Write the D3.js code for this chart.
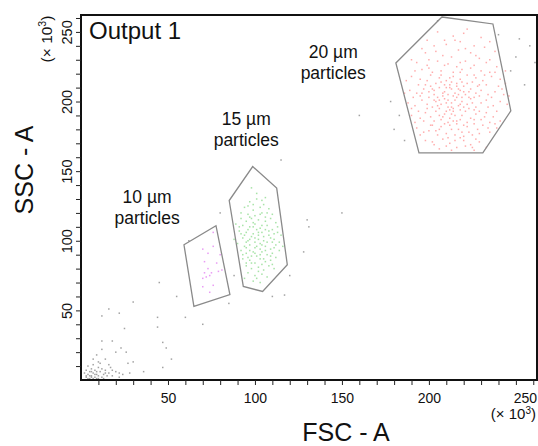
<!DOCTYPE html>
<html>
<head>
<meta charset="utf-8">
<script src="https://cdn.jsdelivr.net/npm/d3@7"></script>
<style>
  body { margin: 0; background: #fff; }
  text { font-family: "Liberation Sans", Arial, sans-serif; fill: #111; }
</style>
</head>
<body>
<div id="chart"></div>
<script>
const width = 538;
const height = 446;
const margin = { top: 15, right: 1, bottom: 66, left: 81 };
const axisMax = 262.144; // x 10^3

const xTicks = [50, 100, 150, 200, 250];
const yTicks = [50, 100, 150, 200, 250];
const minorTicks = d3.range(10, 261, 10);

// gates (x10^3)
const gate20 = [[207.5, 260.7], [236.8, 255.7], [247.1, 193.3], [231, 163.1], [194.3, 163.1], [181, 227.7]];
const gate15 = [[98.7, 153.3], [112.5, 137.8], [118.6, 82.8], [104.4, 63.6], [93.3, 67.2], [85.2, 128.9]];
const gate10 = [[59.2, 97.1], [77.6, 110.8], [85.6, 61.3], [64.9, 52.9]];

const gateLabels = [
  { x: 145, y: 231, lines: ["20 µm", "particles"] },
  { x: 95, y: 183, lines: ["15 µm", "particles"] },
  { x: 38, y: 127, lines: ["10 µm", "particles"] }
];

// events (x10^3)
const red = [
  [205,250],[214,247],[222,252],[230,246],[199,244],[226,240],[218,243],
  [196,238],[204,236],[210,241],[217,237],[224,235],[232,239],[208,233],[229,231],[213,232],[238,236],[200,230],
  [193,228],[199,226],[205,229],[211,227],[216,225],[221,229],[226,226],[233,228],[239,225],[207,222],[214,221],[219,223],[230,222],[202,221],[235,221],[196,223],
  [190,218],[195,216],[201,219],[206,217],[210,215],[214,218],[218,216],[222,219],[227,217],[231,215],[236,218],[241,216],[204,213],[209,212],[216,213],[220,211],[225,214],[198,212],[213,214],[229,212],[187,215],[244,213],
  [189,208],[193,206],[197,209],[200,207],[203,205],[206,210],[209,207],[211,205],[213,209],[215,206],[218,208],[221,205],[224,209],[227,206],[230,208],[234,205],[238,207],[242,209],[201,211],[208,204],[216,211],[223,203],[205,203],[212,212],[219,203],[195,204],[228,211],
  [188,199],[192,197],[196,201],[199,198],[202,196],[204,200],[207,198],[209,202],[211,196],[213,199],[215,201],[217,197],[219,200],[222,198],[224,202],[227,196],[230,199],[233,201],[237,197],[241,200],[206,195],[214,195],[220,196],[210,199],[216,203],[225,199],[200,203],[245,198],[203,201],[218,194],
  [190,190],[195,188],[198,192],[201,189],[204,193],[207,187],[209,191],[212,188],[214,193],[216,186],[219,190],[221,193],[224,188],[227,191],[230,187],[233,192],[237,189],[241,186],[206,190],[211,185],[218,187],[226,194],[203,186],[213,191],[222,185],[235,185],
  [193,181],[197,178],[201,183],[204,179],[207,182],[210,177],[213,180],[216,184],[219,178],[222,182],[225,176],[228,180],[231,183],[235,178],[239,181],[209,184],[215,176],[220,175],[205,176],[226,184],
  [198,172],[203,169],[208,173],[212,170],[216,167],[220,172],[224,169],[229,171],[233,167],[211,174],[218,174],[206,166],[226,165],
  [208,206],[214,204],[211,201],[217,209],[206,201],[213,196],[220,207],[210,193],[215,190],[207,214],[222,213],[212,217],[218,221],[203,208],[226,203],
  [198,235],[203,240],[215,244],[221,238],[227,233],[235,230],[192,222],[200,224],[209,226],[218,228],[224,224],[232,219],[238,221],[194,212],[199,215],[207,219],[212,210],[219,214],[226,219],[233,212],[240,211],
  [191,203],[196,206],[202,209],[210,210],[217,205],[223,207],[229,204],[236,203],[243,205],[190,195],[194,193],[199,195],[205,197],[212,194],[218,198],[223,195],[229,193],[234,196],[239,193],
  [192,185],[197,186],[202,183],[208,189],[214,186],[220,183],[226,187],[232,189],[238,184],[195,176],[200,179],[206,180],[212,183],[217,180],[223,178],[229,177],[234,181],
  [202,171],[210,168],[215,172],[221,168],[227,173],[209,244],[220,249],[235,243],[190,230],[244,222],[246,204],[186,206],[213,165],[225,167]
];

const green = [
  [97,128],[101,130],[105,126],[94,124],[99,122],[103,124],[108,123],[96,119],[100,118],[104,120],[110,119],[92,116],[95,114],[98,116],[102,115],[106,114],[109,116],[112,113],
  [93,111],[97,110],[100,112],[103,109],[107,111],[110,108],[91,107],[95,106],[99,105],[101,108],[104,106],[108,104],[113,106],[93,102],[96,100],[98,103],[102,101],[105,103],[107,99],[111,101],
  [90,98],[94,96],[97,97],[100,95],[103,98],[106,96],[109,94],[112,97],[92,93],[95,91],[99,92],[101,89],[104,92],[107,90],[110,91],[114,93],[93,87],[97,86],[100,84],[103,87],[106,85],[109,86],[112,88],
  [95,82],[98,80],[102,81],[105,79],[108,82],[111,80],[96,77],[100,75],[104,76],[107,74],[99,71],[103,70],[101,134],[98,138],[106,131],[89,112],[115,104],[116,96],[88,101],[100,99],
  [102,104],[99,110],[96,108],[105,100],[103,94],[98,89],[108,107],[94,104],[110,99],[101,96],[97,93],[104,111],[106,117],[92,120],[113,110],[95,84],[110,83],[102,78],[94,73],
  [96,125],[103,119],[99,113],[106,108],[92,105],[97,101],[104,97],[109,102],[95,95],[100,91],[106,93],[111,95],[93,90],[98,84],[104,83],[109,89],[101,73],[97,117],[102,106],[107,120],
  [91,110],[114,99],[96,88],[105,87],[99,126],[104,129],[95,99],[111,105],[100,102],[103,90]
];

const violet = [
  [76,106],[70,94],[76,96],[80,90],[71,85],[73,80],[71,77],[72,74],[74,75],[75,77],[70,73],[79,78],[81,79],[76,68],[74,63],[70,67],[78,84],[73,91]
];

const other = [
  [3,2],[4,4],[5,1],[6,3],[7,5],[5,6],[8,2],[9,4],[10,3],[11,6],[12,2],[13,4],[6,8],[8,7],[10,9],[14,7],[15,3],[4,10],[7,11],[16,5],[18,3],[20,6],[2,5],[3,7],[9,1],[12,8],[17,9],[22,2],[24,4],[11,12],
  [4,1],[6,2],[7,1],[8,4],[5,3],[9,6],[3,3],[10,1],[13,1],[14,5],
  [30,56],[16,51],[12,46],[22,48],[44,45],[44,38],[25,37],[12,28],[18,28],[47,27],[49,23],[12,22],[20,20],[23,23],[26,20],[9,18],[7,15],[14,15],[10,13],[30,13],[27,12],[52,15],[36,6],[28,5],[47,9],[16,11],[18,7],[22,5],[6,6],
  [60,45],[70,40],[55,60],[85,55],[120,75],[128,92],[131,110],[115,158],[117,61],[130,115],[150,120],[160,190],[80,120],[62,100],[45,70],[110,60],[88,75],
  [252,245],[258,240],[250,232],[261,228],[247,222],[255,212],[262,206],[183,190],[180,180],[178,200],[186,172],[240,248],[205,258]
];

const x = d3.scaleLinear().domain([0, axisMax]).range([margin.left, width - margin.right]);
const y = d3.scaleLinear().domain([0, axisMax]).range([height - margin.bottom, margin.top]);

const svg = d3.select("#chart").append("svg")
  .attr("width", width)
  .attr("height", height)
  .attr("viewBox", `0 0 ${width} ${height}`);

// events
function drawDots(data, color, opacity) {
  svg.append("g")
    .selectAll("rect")
    .data(data)
    .enter()
    .append("rect")
    .attr("x", d => x(d[0]) - 0.75)
    .attr("y", d => y(d[1]) - 0.75)
    .attr("width", 1.5)
    .attr("height", 1.5)
    .attr("fill", color)
    .attr("opacity", opacity);
}
drawDots(other, "#555", 0.55);
drawDots(violet, "#e070f0", 0.7);
drawDots(green, "#50c850", 0.5);
drawDots(red, "#ff4848", 0.45);

// gates
const line = d3.line().x(d => x(d[0])).y(d => y(d[1])).curve(d3.curveLinearClosed);
[gate20, gate15, gate10].forEach(g => {
  svg.append("path")
    .attr("d", line(g))
    .attr("fill", "none")
    .attr("stroke", "#8a8a8a")
    .attr("stroke-width", 1.3);
});

// gate labels
gateLabels.forEach(l => {
  const t = svg.append("text")
    .attr("text-anchor", "middle")
    .attr("font-size", 17.5);
  l.lines.forEach((s, i) => {
    t.append("tspan")
      .attr("x", x(l.x))
      .attr("y", y(l.y) + i * 21)
      .text(s);
  });
});

// frame
svg.append("rect")
  .attr("x", x(0))
  .attr("y", y(axisMax))
  .attr("width", x(axisMax) - x(0))
  .attr("height", y(0) - y(axisMax))
  .attr("fill", "none")
  .attr("stroke", "#111")
  .attr("stroke-width", 2);

// x axis
const xAxis = svg.append("g").attr("transform", `translate(0,${y(0)})`);
xAxis.call(d3.axisBottom(x).tickValues(minorTicks).tickSize(5).tickFormat(""))
  .call(g => g.select(".domain").remove())
  .call(g => g.selectAll(".tick line").attr("stroke", "#222"));
xAxis.selectAll(".tick")
  .filter(d => xTicks.includes(d))
  .append("text")
  .attr("y", 23)
  .attr("x", d => d === 250 ? 9 : 0)
  .attr("text-anchor", "middle")
  .attr("font-size", 14)
  .attr("fill", "#111")
  .text(d => d);
svg.append("text")
  .attr("x", 536)
  .attr("y", 419)
  .attr("text-anchor", "end")
  .attr("font-size", 15)
  .html('(× 10<tspan dy="-5" font-size="10">3</tspan><tspan dy="5">)</tspan>');

// y axis
const yAxis = svg.append("g").attr("transform", `translate(${x(0)},0)`);
yAxis.call(d3.axisLeft(y).tickValues(minorTicks).tickSize(5).tickFormat(""))
  .call(g => g.select(".domain").remove())
  .call(g => g.selectAll(".tick line").attr("stroke", "#222"));
yAxis.selectAll(".tick")
  .filter(d => yTicks.includes(d))
  .append("text")
  .attr("transform", "translate(-9,0) rotate(-90)")
  .attr("text-anchor", "middle")
  .attr("font-size", 14.5)
  .attr("fill", "#111")
  .text(d => d);
svg.append("text")
  .attr("transform", "translate(52,39) rotate(-90)")
  .attr("text-anchor", "middle")
  .attr("font-size", 15.5)
  .html('(× 10<tspan dy="-6" font-size="10.5">3</tspan><tspan dy="6">)</tspan>');

// titles
svg.append("text")
  .attr("x", 346)
  .attr("y", 441)
  .attr("text-anchor", "middle")
  .attr("font-size", 25)
  .text("FSC - A");
svg.append("text")
  .attr("transform", "translate(33,170) rotate(-90)")
  .attr("text-anchor", "middle")
  .attr("font-size", 25)
  .text("SSC - A");
svg.append("text")
  .attr("x", 89)
  .attr("y", 39)
  .attr("font-size", 24)
  .text("Output 1");
</script>
</body>
</html>
